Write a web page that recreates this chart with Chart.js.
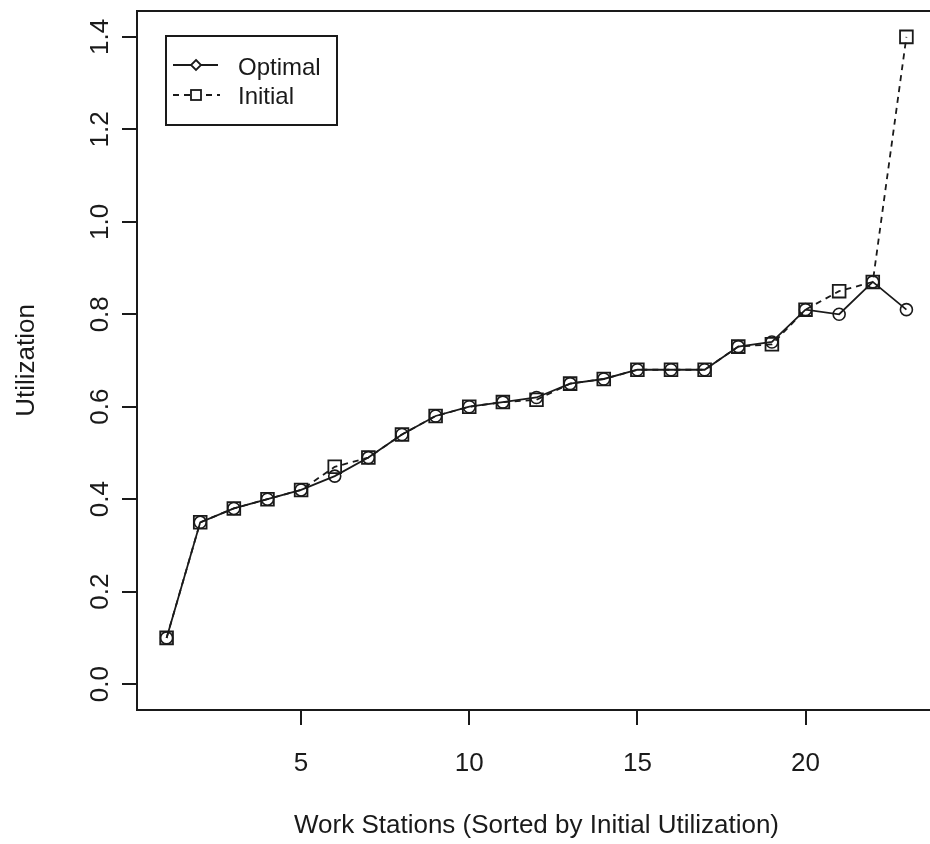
<!DOCTYPE html>
<html>
<head>
<meta charset="utf-8">
<script src="https://cdn.jsdelivr.net/npm/chart.js@4.4.1/dist/chart.umd.min.js"></script>
<style>
  html, body { margin: 0; padding: 0; background: #fff; overflow: hidden; width: 930px; height: 844px; }
  canvas { display: block; }
</style>
</head>
<body>
<canvas id="utilChart" width="950" height="844"></canvas>
<script>
// data
const workStations = [1, 2, 3, 4, 5, 6, 7, 8, 9, 10, 11, 12, 13, 14, 15, 16, 17, 18, 19, 20, 21, 22, 23];
const optimalUtil = [0.10, 0.35, 0.38, 0.40, 0.42, 0.45, 0.49, 0.54, 0.58, 0.60, 0.61, 0.62, 0.65, 0.66, 0.68, 0.68, 0.68, 0.73, 0.74, 0.81, 0.80, 0.87, 0.81];
const initialUtil = [0.10, 0.35, 0.38, 0.40, 0.42, 0.47, 0.49, 0.54, 0.58, 0.60, 0.61, 0.615, 0.65, 0.66, 0.68, 0.68, 0.68, 0.73, 0.735, 0.81, 0.85, 0.87, 1.40];
const xTicks = [5, 10, 15, 20];
const yTicks = [0.0, 0.2, 0.4, 0.6, 0.8, 1.0, 1.2, 1.4];

const ink = '#1a1a1a';
const fontFamily = '"Liberation Sans", Arial, sans-serif';

// box round the plot, rotated y labels and the legend, R style
const rStyle = {
  id: 'rStyle',
  afterDraw(chart) {
    const ctx = chart.ctx;
    const area = chart.chartArea;
    const yScale = chart.scales.y;

    ctx.save();
    ctx.strokeStyle = ink;
    ctx.lineWidth = 2;
    ctx.strokeRect(area.left, area.top, area.right - area.left, area.bottom - area.top);

    // y tick labels, turned like R does
    ctx.fillStyle = ink;
    ctx.font = '26px ' + fontFamily;
    ctx.textAlign = 'center';
    ctx.textBaseline = 'middle';
    yScale.ticks.forEach(t => {
      const y = yScale.getPixelForValue(t.value);
      ctx.save();
      ctx.translate(101, y);
      ctx.rotate(-Math.PI / 2);
      ctx.fillText(t.value.toFixed(1), 0, 0);
      ctx.restore();
    });

    // legend
    const lx = 166, ly = 36, lw = 171, lh = 89;
    ctx.fillStyle = '#fff';
    ctx.fillRect(lx, ly, lw, lh);
    ctx.strokeStyle = ink;
    ctx.lineWidth = 2;
    ctx.strokeRect(lx, ly, lw, lh);

    ctx.lineWidth = 1.8;
    ctx.beginPath();
    ctx.moveTo(173, 65);
    ctx.lineTo(218, 65);
    ctx.stroke();
    ctx.beginPath();
    ctx.moveTo(196, 60);
    ctx.lineTo(201, 65);
    ctx.lineTo(196, 70);
    ctx.lineTo(191, 65);
    ctx.closePath();
    ctx.fillStyle = '#fff';
    ctx.fill();
    ctx.stroke();

    ctx.setLineDash([6, 5]);
    ctx.beginPath();
    ctx.moveTo(173, 95);
    ctx.lineTo(220, 95);
    ctx.stroke();
    ctx.setLineDash([]);
    ctx.fillRect(191, 90, 10, 10);
    ctx.strokeRect(191, 90, 10, 10);

    ctx.fillStyle = ink;
    ctx.font = '24px ' + fontFamily;
    ctx.textAlign = 'left';
    ctx.fillText('Optimal', 238, 68);
    ctx.fillText('Initial', 238, 97);
    ctx.restore();
  }
};

const ctx = document.getElementById('utilChart').getContext('2d');
new Chart(ctx, {
  type: 'line',
  data: {
    labels: workStations,
    datasets: [
      {
        label: 'Optimal',
        data: optimalUtil,
        borderColor: ink,
        borderWidth: 1.8,
        backgroundColor: 'transparent',
        pointStyle: 'circle',
        pointRadius: 6,
        pointBorderWidth: 1.6,
        pointBorderColor: ink,
        pointBackgroundColor: 'transparent',
        tension: 0
      },
      {
        label: 'Initial',
        data: initialUtil,
        borderColor: ink,
        borderWidth: 1.8,
        borderDash: [6, 5],
        backgroundColor: 'transparent',
        pointStyle: 'rect',
        pointRadius: 9,
        pointBorderWidth: 1.8,
        pointBorderColor: ink,
        pointBackgroundColor: 'transparent',
        tension: 0
      }
    ]
  },
  options: {
    responsive: false,
    animation: false,
    devicePixelRatio: 1,
    layout: { padding: { left: 0, top: 11, right: 14, bottom: 0 } },
    plugins: {
      legend: { display: false },
      tooltip: { enabled: false }
    },
    scales: {
      x: {
        type: 'linear',
        min: 0.12,
        max: 23.88,
        afterBuildTicks: s => { s.ticks = xTicks.map(v => ({ value: v })); },
        afterFit: s => { s.height = 134; },
        border: { display: false },
        grid: { drawOnChartArea: false, drawTicks: true, tickLength: 15, tickColor: ink, lineWidth: 2 },
        ticks: { color: ink, padding: 23, maxRotation: 0, font: { family: fontFamily, size: 26 } },
        title: {
          display: true,
          text: 'Work Stations (Sorted by Initial Utilization)',
          color: ink,
          font: { family: fontFamily, size: 26 },
          padding: { top: 0, bottom: 3 }
        }
      },
      y: {
        min: -0.056,
        max: 1.456,
        afterBuildTicks: s => { s.ticks = yTicks.map(v => ({ value: v })); },
        afterFit: s => { s.width = 137; },
        border: { display: false },
        grid: { drawOnChartArea: false, drawTicks: true, tickLength: 15, tickColor: ink, lineWidth: 2 },
        ticks: { display: false },
        title: {
          display: true,
          text: 'Utilization',
          color: ink,
          font: { family: fontFamily, size: 26 },
          padding: { top: 11, bottom: 0 }
        }
      }
    }
  },
  plugins: [rStyle]
});
</script>
</body>
</html>
